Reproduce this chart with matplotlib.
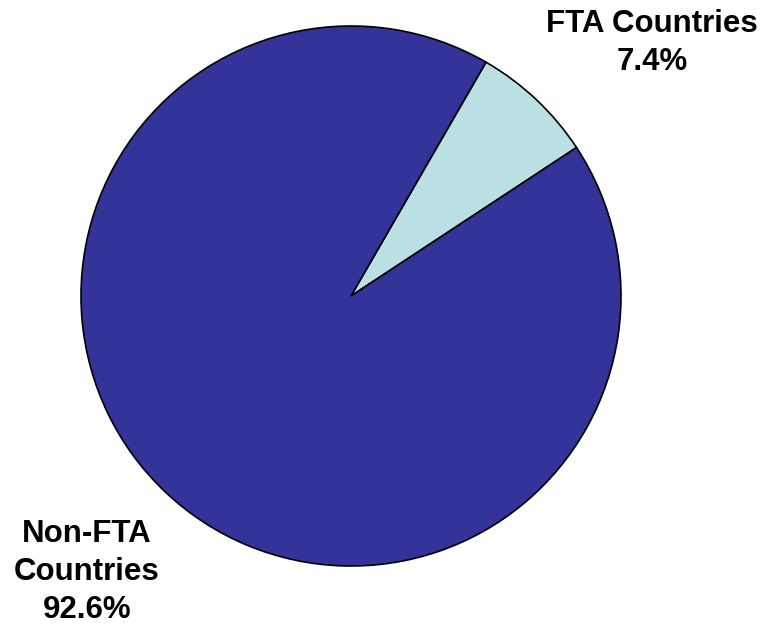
import matplotlib
matplotlib.use("Agg")
import matplotlib.pyplot as plt

categories = ["FTA Countries", "Non-FTA\nCountries"]
values = [7.4, 92.6]
colors = ["#BBE0E3", "#333399"]

W, H = 763, 626
fig = plt.figure(figsize=(W / 100, H / 100), dpi=100)
cx, cy, r = 351, 296, 270
ax = fig.add_axes([(cx - r) / W, (H - cy - r) / H, 2 * r / W, 2 * r / H])
ax.pie(values, colors=colors, startangle=60, counterclock=False,
       wedgeprops=dict(edgecolor="black", linewidth=1.2))
ax.set_xlim(-1.0, 1.0)
ax.set_ylim(-1.0, 1.0)
ax.set_aspect("equal")
ax.axis("off")

label_pos = [(652, 43), (87, 572)]
for cat, v, (px, py) in zip(categories, values, label_pos):
    fig.text(px / W, 1 - py / H, f"{cat}\n{v:.1f}%", ha="center", va="center",
             fontsize=22.5, fontweight="bold", family="Liberation Sans",
             linespacing=1.36)

fig.savefig("out.png", dpi=100)
